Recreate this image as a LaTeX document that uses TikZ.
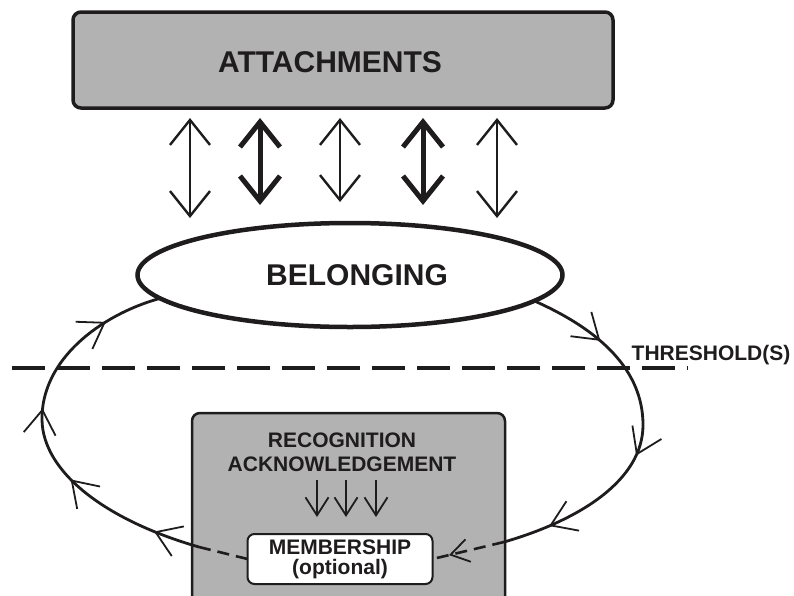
\documentclass[tikz,border=0pt]{standalone}
\usepackage{fontspec}
\setmainfont{Liberation Sans}
\usetikzlibrary{arrows.meta,shapes.geometric,decorations.markings}
\pgfdeclarelayer{bg}
\pgfsetlayers{bg,main}
\definecolor{panelgray}{RGB}{178,178,178}
\definecolor{ink}{RGB}{30,28,28}
\tikzset{
        panel/.style={draw=ink, fill=panelgray, rounded corners=8pt, inner sep=0pt, outer sep=0pt},
        word/.style={text=ink, font=\bfseries\fontsize{21}{20}\selectfont, align=center, inner sep=0pt},
        bigword/.style={text=ink, font=\bfseries\fontsize{30}{34}\selectfont, inner sep=0pt},
        bigbarb/.tip={Straight Barb[length=25pt,width=40pt]},
        loopbarb/.tip={Straight Barb[length=24pt,width=32pt,line width=1.8pt]},
        smallbarb/.tip={Straight Barb[length=18pt,width=23pt,line width=1.8pt]},
        link/.style={draw=ink, line cap=round, bigbarb-bigbarb},
        loopline/.style={draw=ink, line width=2.8pt},
        gapline/.style={draw=ink, line width=2.6pt, dash pattern=on 12pt off 7pt}
}
\begin{document}
\begin{tikzpicture}[x=1pt, y=-1pt]
        \useasboundingbox (0,0) rectangle (794,595);
        \clip (0,0) rectangle (794,595);
        \node (att) [panel, line width=3.5pt, minimum width=540pt, minimum height=96pt] at (343,60) {};
        \node (attword) [bigword, anchor=base] at (330,72) {ATTACHMENTS};
        \node (bel) [ellipse, draw=ink, line width=4.5pt, outer sep=0pt, minimum width=425pt, minimum height=104pt] at (350,275) {};
        \node (belword) [bigword, anchor=base] at (357,285) {BELONGING};
        \begin{pgfonlayer}{bg}
                \clip (0,0) rectangle (794,595);
                \node (recbox) [panel, line width=2.5pt, minimum width=313pt, minimum height=200pt, anchor=north west] at (192,413) {};
        \end{pgfonlayer}
        \node (recog) [word, anchor=base] at (342,471) {RECOGNITION\\[4pt]ACKNOWLEDGEMENT};
        \node (mem) [word, draw=ink, fill=white, line width=2pt, rounded corners=7pt, outer sep=0pt, minimum width=185pt, minimum height=50pt] at (340,559) {MEMBERSHIP\\(optional)};
        \node (thword) [word, anchor=base] at (711,360) {THRESHOLD(S)};
        \coordinate (ldash) at (199,547);
        \coordinate (rdash) at (504,542);
        \coordinate (thL) at (12,368);
        \coordinate (thR) at (688,368);

        \foreach \dx/\cut/\lw in {-153/5/2.4, -83/18/5, -3/21/2.4, 80/18/5, 154/5/2.4}
                \draw[link, line width=\lw pt, shorten <=10pt, shorten >=\cut pt]
                        ([xshift=\dx pt]att.south) -- ([xshift=\dx pt]att.south |- bel.north);

        \foreach \dx in {-25, 4, 34}
                \draw[draw=ink, line width=2.2pt, -smallbarb, shorten <=9pt, shorten >=17pt]
                        ([xshift=\dx pt]recog.south) -- ([xshift=\dx pt]recog.south |- mem.north);

        \draw[ink, line width=4pt, dash pattern=on 33pt off 12pt] (thL) -- (thR);

        \draw[loopline, postaction={decorate}, decoration={markings,
                        mark=at position 0.12 with {\arrow{loopbarb}},
                        mark=at position 0.37 with {\arrow{loopbarb}},
                        mark=at position 0.57 with {\arrow{loopbarb}},
                        mark=at position 0.85 with {\arrow{loopbarb}}}]
                (ldash) .. controls (105,520) and (43,472) .. (42,420)
                        .. controls (41,360) and (100,315) .. (bel.187);
        \draw[loopline, postaction={decorate}, decoration={markings,
                        mark=at position 0.21 with {\arrow{loopbarb}},
                        mark=at position 0.56 with {\arrow{loopbarb}},
                        mark=at position 0.87 with {\arrow{loopbarb}}}]
                (bel.352) .. controls (600,330) and (643,370) .. (643,425)
                          .. controls (643,480) and (580,520) .. (rdash);
        \draw[gapline] (mem.west) -- (ldash);
        \draw[gapline, postaction={decorate}, decoration={markings,
                        mark=at position 0.77 with {\arrow{smallbarb}}}]
                (rdash) -- (mem.east);
\end{tikzpicture}
\end{document}
